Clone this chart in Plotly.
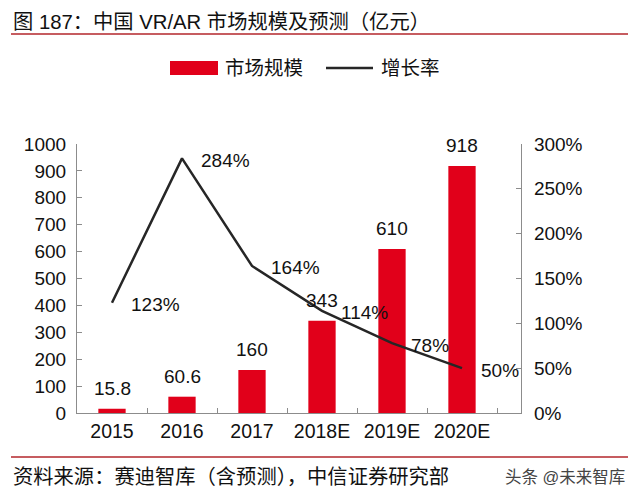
import plotly.graph_objects as go

categories = ["2015", "2016", "2017", "2018E", "2019E", "2020E"]
market_size = [15.8, 60.6, 160, 343, 610, 918]
growth_rate = [1.23, 2.84, 1.64, 1.14, 0.78, 0.50]
bar_name = "市场规模"
line_name = "增长率"
title_text = "图 187：中国 VR/AR 市场规模及预测（亿元）"
source_text = "资料来源：赛迪智库（含预测），中信证券研究部"
watermark_text = "头条 @未来智库"

# page body has an 8px margin; the figure is placed at (8, 8)
OFF = 8
W, H = 640 - OFF, 500 - OFF
L, R, T, B = 77 - OFF, 521 - OFF, 144 - OFF, 413 - OFF
FONT = "Liberation Sans, Arial, Noto Sans CJK SC, sans-serif"
BAR_C = "#E1001A"
LINE_C = "#262626"
AX_C = "#8C8C8C"
RED_RULE = "#B3262B"


def px(x):
    return (x - OFF - L) / (R - L)


def py(y):
    return (B - (y - OFF)) / (B - T)


fig = go.Figure()
fig.add_trace(go.Bar(x=categories, y=market_size, name=bar_name,
                     marker=dict(color=BAR_C, line=dict(width=0)),
                     yaxis="y", showlegend=False))
fig.add_trace(go.Scatter(x=categories, y=growth_rate, name=line_name,
                         mode="lines", line=dict(color=LINE_C, width=2.5),
                         yaxis="y2", showlegend=False, cliponaxis=False))

ann = []
for i, v in enumerate(market_size):
    ann.append(dict(x=i, y=v, xref="x", yref="y", text=f"{v:g}", showarrow=False,
                    yanchor="bottom", yshift=8, font=dict(size=19, color="#111")))
for i, g in enumerate(growth_rate):
    ann.append(dict(x=i, y=g, xref="x", yref="y2", text=f"{g*100:.0f}%", showarrow=False,
                    xanchor="left", xshift=17, yshift=-2, font=dict(size=19, color="#111")))

# title, source, watermark
ann.append(dict(x=px(11), y=py(22), xref="paper", yref="paper", text=title_text,
                showarrow=False, xanchor="left", yanchor="middle",
                font=dict(size=20.3, color="#111")))
ann.append(dict(x=px(11), y=py(477), xref="paper", yref="paper", text=source_text,
                showarrow=False, xanchor="left", yanchor="middle",
                font=dict(size=20.3, color="#111")))
ann.append(dict(x=px(627), y=py(477), xref="paper", yref="paper", text=watermark_text,
                showarrow=False, xanchor="right", yanchor="middle",
                font=dict(size=16.5, color="#444")))
# legend labels
ann.append(dict(x=px(223), y=py(68), xref="paper", yref="paper", text=bar_name,
                showarrow=False, xanchor="left", yanchor="middle",
                font=dict(size=19.5, color="#111")))
ann.append(dict(x=px(379), y=py(68), xref="paper", yref="paper", text=line_name,
                showarrow=False, xanchor="left", yanchor="middle",
                font=dict(size=19.5, color="#111")))

shapes = [
    dict(type="line", xref="paper", yref="paper", x0=px(11), x1=px(628), y0=py(34), y1=py(34),
         line=dict(color=RED_RULE, width=1.5)),
    dict(type="line", xref="paper", yref="paper", x0=px(11), x1=px(628), y0=py(457), y1=py(457),
         line=dict(color=RED_RULE, width=1.5)),
    dict(type="rect", xref="paper", yref="paper", x0=px(170), x1=px(218), y0=py(75), y1=py(61),
         fillcolor=BAR_C, line=dict(width=0)),
    dict(type="line", xref="paper", yref="paper", x0=px(326), x1=px(373), y0=py(68), y1=py(68),
         line=dict(color=LINE_C, width=2.5)),
]

fig.update_layout(
    width=W, height=H,
    margin=dict(l=L, r=W - R, t=T, b=H - B, pad=0),
    paper_bgcolor="white", plot_bgcolor="white",
    font=dict(family=FONT, size=19, color="#111"),
    bargap=0.61,
    showlegend=False,
    xaxis=dict(type="category", showline=True, linecolor=AX_C, linewidth=1.2,
               ticks="inside", ticklen=5, tickcolor=AX_C, tickson="boundaries",
               showgrid=False, tickfont=dict(size=19.5), ticklabelstandoff=0,
               tickangle=0),
    yaxis=dict(range=[0, 1000], dtick=100, showline=True, linecolor=AX_C, linewidth=1.2,
               ticks="inside", ticklen=5, tickcolor=AX_C, showgrid=False, zeroline=False,
               tickfont=dict(size=19), ticklabelstandoff=6),
    yaxis2=dict(range=[0, 3], dtick=0.5, tickformat=".0%", overlaying="y", side="right",
                showline=True, linecolor=AX_C, linewidth=1.2, ticks="inside", ticklen=5,
                tickcolor=AX_C, showgrid=False, zeroline=False,
                tickfont=dict(size=19), ticklabelstandoff=8),
    annotations=ann,
    shapes=shapes,
)

fig.write_html("out.html")
